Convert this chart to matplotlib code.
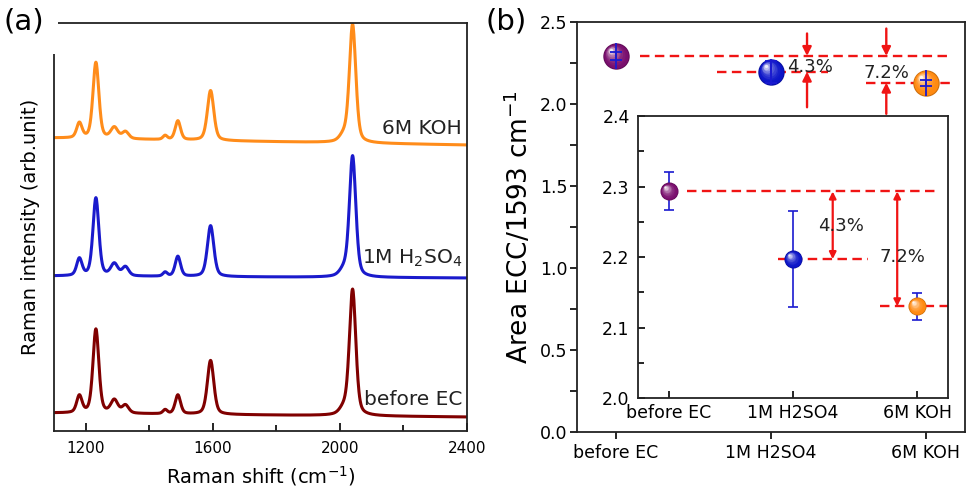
import matplotlib
matplotlib.use('Agg')
import matplotlib.pyplot as plt
import numpy as np
from matplotlib.colors import to_rgb
from matplotlib.transforms import ScaledTranslation
from matplotlib.patches import Rectangle
from matplotlib.ticker import MultipleLocator

plt.rcParams['font.family'] = ['DejaVu Sans']
plt.rcParams['mathtext.default'] = 'regular'

# ---- panel (a): Raman spectra, peak parameters ----
peak_pos = [1180, 1232, 1290, 1325, 1450, 1490, 1593, 2012, 2040]
peak_hw = [10, 11, 13, 12, 8, 10, 12, 15, 12]
h_before = [17, 84, 13, 8, 4, 19, 54, 6, 126]
h_h2so4 = [17, 78, 12, 9, 4, 20, 51, 6, 121]
h_koh = [15, 76, 11, 7, 4, 19, 50, 6, 118]
base_start = [18, 155, 293]
base_end = [14, 153, 286]
spec_names = ['before EC', '1M H$_2$SO$_4$', '6M KOH']
spec_colors = ['#800000', '#1a1acc', '#ff8c1a']

# ---- panel (b): area ratio ----
groups = ['before EC', '1M H2SO4', '6M KOH']
ratio = [2.293, 2.197, 2.130]
ratio_err = [0.027, 0.068, 0.019]
ball_colors = ['#7a0f6e', '#0b14c8', '#ff8a10']
drops = ['4.3%', '7.2%']

fig = plt.figure(figsize=(9.67, 4.91), dpi=100)


def spectrum(x, heights, b0, b1):
    y = b0 + (b1 - b0) * (x - x[0]) / (x[-1] - x[0])
    for p, w, h in zip(peak_pos, peak_hw, heights):
        lor = 1 / (1 + ((x - p) / w) ** 2)
        gau = np.exp(-np.log(2) * ((x - p) / w) ** 2)
        y = y + h * (0.4 * lor + 0.6 * gau)
    return y


ax1 = fig.add_axes([0.0558, 0.1222, 0.4271, 0.831])
x = np.linspace(1100, 2400, 1301)
for i, hs in enumerate([h_before, h_h2so4, h_koh]):
    ax1.plot(x, spectrum(x, hs, base_start[i], base_end[i]), color=spec_colors[i], lw=2.2)
label_y = [31, 173, 302]
for name, yy in zip(spec_names, label_y):
    ax1.text(2385, yy, name, ha='right', va='center', fontsize=14.5, color='#222222')
ax1.set_xlim(1100, 2400)
ax1.set_ylim(0, 408)
ax1.set_yticks([])
ax1.xaxis.set_minor_locator(MultipleLocator(200))
ax1.set_xticks([1200, 1600, 2000, 2400])
ax1.tick_params(axis='x', which='major', direction='in', length=6, width=1.2, labelsize=11, pad=7)
ax1.tick_params(axis='x', which='minor', direction='in', length=4, width=1.2)
for s in ax1.spines.values():
    s.set_linewidth(1.3)
    s.set_color('#222222')
ax1.set_xlabel('Raman shift (cm$^{-1}$)', fontsize=14, labelpad=6)
ax1.set_ylabel('Raman intensity (arb.unit)', fontsize=14, labelpad=10)

# white patch hiding the corner of frame (a), as in the original
fig.patches.append(Rectangle((0, 1 - 54 / 491), 58 / 967, 54 / 491, transform=fig.transFigure,
                             facecolor='white', edgecolor='none', zorder=5))
fig.text(0.004, 0.985, '(a)', fontsize=21, va='top', ha='left', zorder=6)
fig.text(0.502, 0.985, '(b)', fontsize=21, va='top', ha='left', zorder=6)


def balls(ax, xs, ys, cols, ms, z):
    for xx, yy, c in zip(xs, ys, cols):
        base = np.array(to_rgb(c))
        dark = base * 0.8
        n = 10
        ax.plot(xx, yy, 'o', ms=ms, color=dark, mec='none', zorder=z)
        for k in range(n):
            t = k / (n - 1)
            size = ms * (0.92 - 0.8 * t)
            col = base + (1 - base) * (t ** 2) * 0.92
            off = 0.22 * ms * t
            tr = ax.transData + ScaledTranslation(-off / 72 * 0.9, off / 72, fig.dpi_scale_trans)
            ax.plot(xx, yy, 'o', ms=size, color=col, mec='none', transform=tr, zorder=z + 0.01 * k)


pos = np.arange(1, len(groups) + 1)
red = '#f01414'
dash = (4.0, 2.3)

# ---- main axes (b) ----
ax2 = fig.add_axes([0.5967, 0.1202, 0.4010, 0.835])
ax2.set_xlim(0.75, 3.25)
ax2.set_ylim(0, 2.5)
ax2.set_xticks(pos)
ax2.set_xticklabels(groups, fontsize=12.5)
ax2.yaxis.set_major_locator(MultipleLocator(0.5))
ax2.yaxis.set_minor_locator(MultipleLocator(0.25))
ax2.yaxis.set_major_formatter(matplotlib.ticker.FormatStrFormatter('%.1f'))
ax2.tick_params(axis='both', which='major', direction='out', length=5, width=1.2, labelsize=12.5, pad=2)
ax2.tick_params(axis='y', which='minor', direction='out', length=5, width=1.2)
ax2.tick_params(axis='x', pad=4)
for s in ax2.spines.values():
    s.set_linewidth(1.3)
    s.set_color('#222222')
ax2.set_ylabel('Area ECC/1593 cm$^{-1}$', fontsize=19, labelpad=4)

main_ref = [(1.153, 3.147), (1.652, 2.367), (2.61, 3.166)]
for yy, (xa, xb) in zip(ratio, main_ref):
    ax2.plot([xa, xb], [yy, yy], color=red, lw=1.7, dashes=dash, zorder=2)
balls(ax2, pos, ratio, ball_colors, 19, 3)
ax2.errorbar(pos, ratio, yerr=ratio_err, fmt='none', ecolor='#1a1ad0', elinewidth=1.3,
             capsize=4, capthick=1.3, zorder=4)
ax2.plot(pos, ratio, '|', ms=19, mew=1.3, color='#1a1ad0', zorder=4)

arrow_kw = dict(arrowstyle='-|>', color=red, lw=1.7, mutation_scale=13, shrinkA=0, shrinkB=0)
ax2.annotate('', xy=(2.233, ratio[0]), xytext=(2.233, 2.43), arrowprops=arrow_kw, zorder=5)
ax2.annotate('', xy=(2.233, ratio[1]), xytext=(2.233, 1.98), arrowprops=arrow_kw, zorder=5)
ax2.annotate('', xy=(2.744, ratio[0]), xytext=(2.744, 2.46), arrowprops=arrow_kw, zorder=5)
ax2.annotate('', xy=(2.744, ratio[2]), xytext=(2.744, 1.94), arrowprops=arrow_kw, zorder=5)
ax2.text(2.25, 2.225, drops[0], fontsize=13, ha='center', va='center', color='#222222', zorder=6)
ax2.text(2.745, 2.19, drops[1], fontsize=13, ha='center', va='center', color='#222222', zorder=6)

# ---- inset ----
ax3 = fig.add_axes([0.6598, 0.1894, 0.3206, 0.5743])
ax3.set_xlim(0.75, 3.25)
ax3.set_ylim(2.0, 2.4)
ax3.set_xticks(pos)
ax3.set_xticklabels(groups, fontsize=12.5)
ax3.yaxis.set_major_locator(MultipleLocator(0.1))
ax3.yaxis.set_minor_locator(MultipleLocator(0.05))
ax3.yaxis.set_major_formatter(matplotlib.ticker.FormatStrFormatter('%.1f'))
ax3.tick_params(axis='both', which='major', direction='in', length=5, width=1.2, labelsize=12.5, pad=6)
ax3.tick_params(axis='y', which='minor', direction='in', length=4, width=1.2)
ax3.tick_params(axis='x', pad=4)
for s in ax3.spines.values():
    s.set_linewidth(1.3)
    s.set_color('#222222')

inset_ref = [(1.145, 3.145), (1.88, 2.605), (2.70, 3.25)]
for yy, (xa, xb) in zip(ratio, inset_ref):
    ax3.plot([xa, xb], [yy, yy], color=red, lw=1.7, dashes=dash, zorder=2, clip_on=False)
ax3.errorbar(pos, ratio, yerr=ratio_err, fmt='none', ecolor='#1a1ad0', elinewidth=1.2,
             capsize=3.5, capthick=1.2, zorder=2.5)
balls(ax3, pos, ratio, ball_colors, 13, 3)

darrow = dict(arrowstyle='<|-|>', color=red, lw=1.6, mutation_scale=10, shrinkA=0, shrinkB=0)
ax3.annotate('', xy=(2.32, ratio[0]), xytext=(2.32, ratio[1]), arrowprops=darrow, zorder=5)
ax3.annotate('', xy=(2.84, ratio[0]), xytext=(2.84, ratio[2]), arrowprops=darrow, zorder=5)
ax3.text(2.39, 2.244, drops[0], fontsize=13, ha='center', va='center', color='#222222', zorder=6)
ax3.text(2.88, 2.200, drops[1], fontsize=13, ha='center', va='center', color='#222222', zorder=6)

fig.savefig('out.png', dpi=100)
